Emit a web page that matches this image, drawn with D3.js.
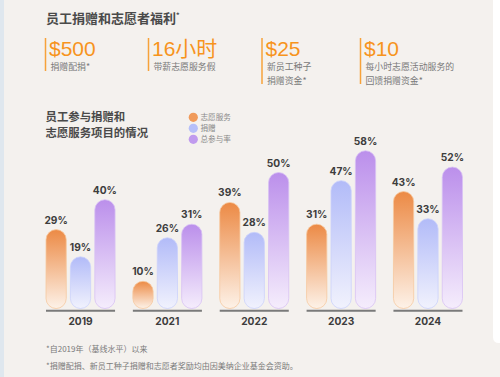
<!DOCTYPE html>
<html><head><meta charset="utf-8">
<script src="https://cdn.jsdelivr.net/npm/d3@7"></script>
<style>
html,body{margin:0;padding:0;background:#f4f1ee;}
svg{display:block;font-family:"Noto Sans CJK SC","Noto Sans",sans-serif;}
</style></head><body>
<svg id="c" width="500" height="377"></svg>
<script>
const years = ["2019","2021","2022","2023","2024"];
const seriesNames = ["志愿服务","捐赠","总参与率"];
const volunteer = [29,10,39,31,43];
const donation = [19,26,28,47,33];
const participation = [40,31,50,58,52];
const stats = [
  {value:"$500", lines:["捐赠配捐*"]},
  {value:"16小时", lines:["带薪志愿服务假"]},
  {value:"$25", lines:["新员工种子","捐赠资金*"]},
  {value:"$10", lines:["每小时志愿活动服务的","回馈捐赠资金*"]}
];
const footnotes = ["*自2019年（基线水平）以来","*捐赠配捐、新员工种子捐赠和志愿者奖励均由因美纳企业基金会资助。"];

const svg = d3.select("#c");
const W=500,H=377;
svg.append("rect").attr("width",W).attr("height",H).attr("fill","#f4f1ee");
svg.append("rect").attr("x",0).attr("y",0).attr("width",4).attr("height",H).attr("fill","#dfe7ee");
svg.append("path").attr("d","M493,0 L500,0 L500,343 L499,343 Q493,343 493,337 Z").attr("fill","#ffffff");

// Title
svg.append("text").attr("x",46).attr("y",22.5).attr("font-size",13).attr("font-weight",700)
  .attr("fill","#4a4a4a").text("员工捐赠和志愿者福利")
  .append("tspan").attr("font-size",7).attr("dy",-5).text("*");

// Stats
const statX = [45.5,148.5,262,360.5];
stats.forEach((s,i)=>{
  const g = svg.append("g").attr("transform",`translate(${statX[i]},0)`);
  const y2 = s.lines.length>1 ? 84 : 71;
  g.append("line").attr("x1",0).attr("x2",0).attr("y1",38).attr("y2",y2)
    .attr("stroke","#f7a23a").attr("stroke-width",1.5);
  g.append("text").attr("x",3.5).attr("y",55.5).attr("font-size",21).attr("fill","#f7941d")
    .attr("font-family","'Liberation Sans','Noto Sans CJK SC',sans-serif").text(s.value);
  s.lines.forEach((l,j)=>{
    g.append("text").attr("x",5).attr("y",69.8+j*14.5).attr("font-size",8.9)
      .attr("fill","#7a7a7a").text(l);
  });
});

// Chart title
["员工参与捐赠和","志愿服务项目的情况"].forEach((t,i)=>{
  svg.append("text").attr("x",45.5).attr("y",121+i*15.8).attr("font-size",11.4)
    .attr("font-weight",700).attr("fill","#4a4a4a").text(t);
});

const colors = [
  {top:"#ec8a45", bottom:"#fdf2e8", stroke:"#f6c9a0", legend:"#f09a5a"},
  {top:"#b2bbf8", bottom:"#f1f2fd", stroke:"#ccd2fb", legend:"#b6bff9"},
  {top:"#bb8feb", bottom:"#f5edfc", stroke:"#d8c1f4", legend:"#c09bee"}
];
const defs = svg.append("defs");
colors.forEach((c,i)=>{
  const gr = defs.append("linearGradient").attr("id","g"+i).attr("x1",0).attr("x2",0).attr("y1",0).attr("y2",1);
  gr.append("stop").attr("offset","0%").attr("stop-color",c.top);
  gr.append("stop").attr("offset","100%").attr("stop-color",c.bottom);
});

// Legend
seriesNames.forEach((n,i)=>{
  const y = 117.3 + i*11;
  svg.append("circle").attr("cx",193.3).attr("cy",y).attr("r",4.6).attr("fill",colors[i].legend);
  svg.append("text").attr("x",200.5).attr("y",y+2.7).attr("font-size",7.6).attr("fill","#8a8a8a").text(n);
});

// Scales
const x0 = d3.scaleBand().domain(years).range([46,462.5]).paddingInner(0.205).paddingOuter(0);
const x1 = d3.scaleBand().domain(d3.range(3)).range([0,x0.bandwidth()]).paddingInner(0.17).paddingOuter(0);
const baseY = 308.5;
const y = d3.scaleLinear().domain([0,100]).range([baseY, baseY-272]);

const series = [volunteer, donation, participation];
const groups = svg.append("g").selectAll("g").data(years).join("g")
  .attr("transform",d=>`translate(${x0(d)},0)`);

groups.each(function(yr,gi){
  const g = d3.select(this);
  series.forEach((arr,si)=>{
    const v = arr[gi];
    const bx = x1(si), bw = x1.bandwidth();
    const top = y(v);
    const h = baseY - top;
    g.append("rect").attr("x",bx).attr("y",top).attr("width",bw).attr("height",h)
      .attr("rx",bw/2).attr("ry",Math.min(bw/2,h/2))
      .attr("fill",`url(#g${si})`).attr("stroke",colors[si].stroke).attr("stroke-width",0.8);
    g.append("text").attr("x",bx+bw/2).attr("y",top-6).attr("text-anchor","middle")
      .attr("font-size",10.2).attr("font-weight",700).attr("fill","#3d3d3d")
      .attr("font-family","Inter,'Liberation Sans',sans-serif").text(v+"%");
  });
  g.append("line").attr("x1",0).attr("x2",x0.bandwidth()).attr("y1",310.8).attr("y2",310.8)
    .attr("stroke","#7a7a7a").attr("stroke-width",2);
  g.append("text").attr("x",x0.bandwidth()/2).attr("y",324.5).attr("text-anchor","middle")
    .attr("font-size",10.2).attr("font-weight",700).attr("fill","#3d3d3d")
    .attr("font-family","Inter,'Liberation Sans',sans-serif").text(yr);
});

// Footnotes
footnotes.forEach((t,i)=>{
  svg.append("text").attr("x",46).attr("y",351.8+i*16.7).attr("font-size",8).attr("fill","#7a7a7a").text(t);
});
</script>
</body></html>
